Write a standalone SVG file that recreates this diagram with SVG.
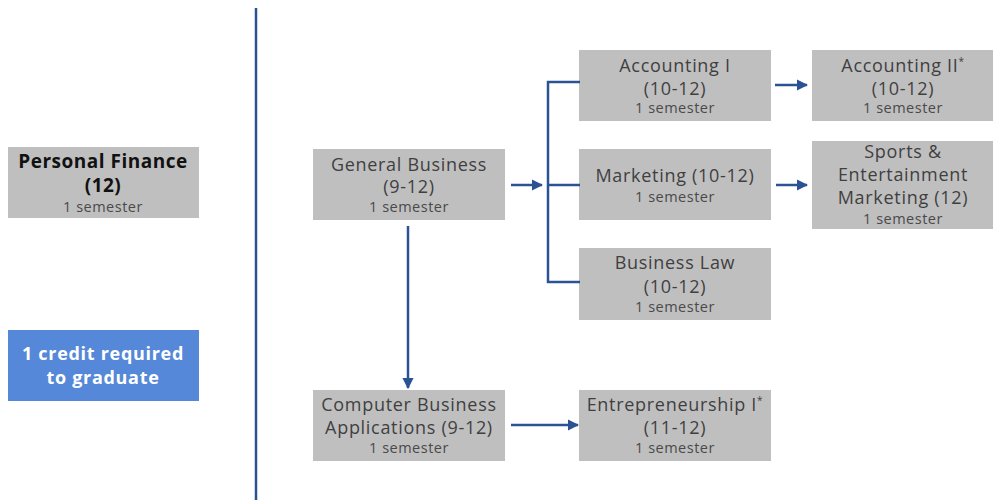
<svg xmlns="http://www.w3.org/2000/svg" width="993" height="500" viewBox="0 0 993 500">
<defs>
<style>
.box{fill:#bfbfbf;}
.t{font-family:"Open Sans","Liberation Sans",sans-serif;font-size:18px;letter-spacing:0.7px;fill:#3f3f3f;text-anchor:middle;}
.s{font-family:"Open Sans","Liberation Sans",sans-serif;font-size:14.5px;letter-spacing:0.5px;fill:#4a4a4a;text-anchor:middle;}
.b{font-family:"Open Sans","Liberation Sans",sans-serif;font-size:19px;letter-spacing:0.5px;font-weight:bold;fill:#111;text-anchor:middle;}
.w{font-family:"Open Sans","Liberation Sans",sans-serif;font-size:18px;letter-spacing:0.7px;font-weight:bold;fill:#fff;text-anchor:middle;}
.ln{stroke:#2b5394;stroke-width:2.5;fill:none;}
.sup{font-size:10px;}
</style>
<marker id="ah" viewBox="0 0 10 10" refX="9" refY="5" markerWidth="4.5" markerHeight="4.5" orient="auto" markerUnits="strokeWidth">
<path d="M0,0 L10,5 L0,10 Z" fill="#2b5394"/>
</marker>
</defs>
<rect width="993" height="500" fill="#fff"/>

<g id="divider"><line x1="256" y1="8" x2="256" y2="500" stroke="#2b5394" stroke-width="2.5"/></g>

<g id="personal-finance">
<rect class="box" x="8" y="147" width="191" height="71"/>
<text class="b" x="103" y="168">Personal Finance</text>
<text class="b" x="103" y="192">(12)</text>
<text class="s" x="103" y="212">1 semester</text>
</g>

<g id="credit-note">
<rect x="8" y="330" width="191" height="71" fill="#5588d8"/>
<text class="w" x="103" y="360">1 credit required</text>
<text class="w" x="103" y="384">to graduate</text>
</g>

<g id="general-business">
<rect class="box" x="313" y="149" width="192" height="71"/>
<text class="t" x="409" y="171">General Business</text>
<text class="t" x="409" y="193">(9-12)</text>
<text class="s" x="409" y="212">1 semester</text>
</g>

<g id="accounting-1">
<rect class="box" x="579" y="50" width="192" height="71"/>
<text class="t" x="675" y="72">Accounting I</text>
<text class="t" x="675" y="95">(10-12)</text>
<text class="s" x="675" y="113">1 semester</text>
</g>

<g id="accounting-2">
<rect class="box" x="812" y="50" width="181" height="71"/>
<text class="t" x="903" y="72">Accounting II<tspan class="sup" dy="-7">*</tspan></text>
<text class="t" x="903" y="95">(10-12)</text>
<text class="s" x="903" y="113">1 semester</text>
</g>

<g id="marketing">
<rect class="box" x="579" y="149" width="192" height="71"/>
<text class="t" x="675" y="182">Marketing (10-12)</text>
<text class="s" x="675" y="202">1 semester</text>
</g>

<g id="sports-marketing">
<rect class="box" x="812" y="141" width="181" height="88"/>
<text class="t" x="903" y="158">Sports &amp;</text>
<text class="t" x="903" y="181">Entertainment</text>
<text class="t" x="903" y="204">Marketing (12)</text>
<text class="s" x="903" y="224">1 semester</text>
</g>

<g id="business-law">
<rect class="box" x="579" y="248" width="192" height="72"/>
<text class="t" x="675" y="269">Business Law</text>
<text class="t" x="675" y="293">(10-12)</text>
<text class="s" x="675" y="312">1 semester</text>
</g>

<g id="computer-business-applications">
<rect class="box" x="313" y="390" width="192" height="71"/>
<text class="t" x="409" y="411">Computer Business</text>
<text class="t" x="409" y="434">Applications (9-12)</text>
<text class="s" x="409" y="453">1 semester</text>
</g>

<g id="entrepreneurship-1">
<rect class="box" x="579" y="390" width="192" height="71"/>
<text class="t" x="675" y="411">Entrepreneurship I<tspan class="sup" dy="-7">*</tspan></text>
<text class="t" x="675" y="434">(11-12)</text>
<text class="s" x="675" y="453">1 semester</text>
</g>

<g id="connectors">
<line class="ln" x1="511" y1="185" x2="542" y2="185" marker-end="url(#ah)"/>
<path class="ln" d="M580,82 H548 V282 H580"/>
<line class="ln" x1="548" y1="185" x2="580" y2="185"/>
<line class="ln" x1="775" y1="85" x2="807" y2="85" marker-end="url(#ah)"/>
<line class="ln" x1="776" y1="185" x2="807" y2="185" marker-end="url(#ah)"/>
<line class="ln" x1="408" y1="226" x2="408" y2="388" marker-end="url(#ah)"/>
<line class="ln" x1="511" y1="425" x2="578" y2="425" marker-end="url(#ah)"/>
</g>
</svg>
